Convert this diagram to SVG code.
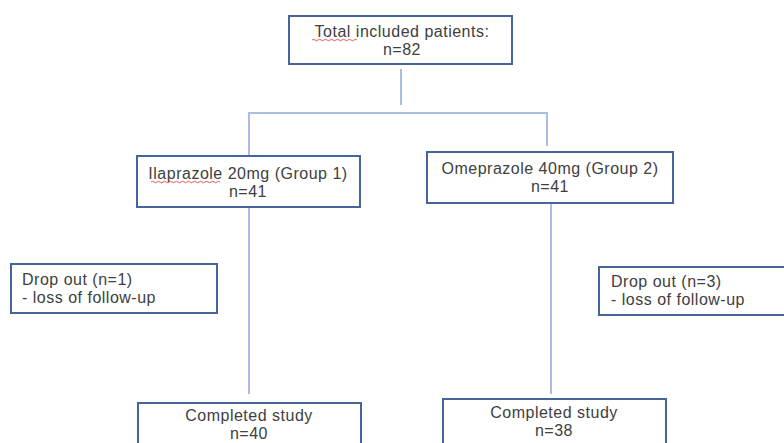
<svg xmlns="http://www.w3.org/2000/svg" width="784" height="443" viewBox="0 0 784 443">
<style>
.box{fill:#ffffff;stroke:#45659c;stroke-width:2}
.ln{fill:none;stroke:#a7bfe4;stroke-width:2}
.t{font-family:"Liberation Sans",Arial,sans-serif;font-size:16px;letter-spacing:0.5px;fill:#404040}
.c{text-anchor:middle}
.sq{fill:none;stroke:#e03030;stroke-width:0.8}
</style>
<rect width="784" height="443" fill="#ffffff"/>
<g id="connectors">
<line class="ln" x1="401" y1="69" x2="401" y2="105"/>
<polyline class="ln" points="249,155 249,113 547,113 547,146"/>
<line class="ln" x1="249" y1="208" x2="249" y2="394"/>
<line class="ln" x1="551" y1="204" x2="551" y2="394"/>
</g>
<g id="total">
<rect class="box" x="289" y="16" width="223" height="48"/>
<text class="t c" x="402" y="37">Total included patients:</text>
<text class="t c" x="402" y="55">n=82</text>
<path class="sq" d="M312,40 q1.5,-1.5 3,0 t3,0 t3,0 t3,0 t3,0 t3,0 t3,0 t3,0 t3,0 t3,0 t3,0 t3,0 t3,0 t3,0 t3,0"/>
</g>
<g id="group1">
<rect class="box" x="137" y="156" width="223" height="51"/>
<text class="t c" x="248" y="179">Ilaprazole 20mg (Group 1)</text>
<text class="t c" x="248" y="197">n=41</text>
<path class="sq" d="M151,182 q1.5,-1.5 3,0 t3,0 t3,0 t3,0 t3,0 t3,0 t3,0 t3,0 t3,0 t3,0 t3,0 t3,0 t3,0 t3,0 t3,0 t3,0 t3,0 t3,0 t3,0 t3,0 t3,0 t3,0 t3,0"/>
</g>
<g id="group2">
<rect class="box" x="427" y="152" width="246" height="51"/>
<text class="t c" x="550" y="174">Omeprazole 40mg (Group 2)</text>
<text class="t c" x="550" y="192">n=41</text>
</g>
<g id="drop1">
<rect class="box" x="11" y="264" width="206" height="49"/>
<text class="t" x="22" y="285">Drop out (n=1)</text>
<text class="t" x="22" y="303">- loss of follow-up</text>
</g>
<g id="drop2">
<rect class="box" x="599" y="267" width="200" height="48"/>
<text class="t" x="611" y="287">Drop out (n=3)</text>
<text class="t" x="611" y="305">- loss of follow-up</text>
</g>
<g id="complete1">
<rect class="box" x="138" y="403" width="223" height="60"/>
<text class="t c" x="249" y="421">Completed study</text>
<text class="t c" x="249" y="439">n=40</text>
</g>
<g id="complete2">
<rect class="box" x="443" y="399" width="223" height="60"/>
<text class="t c" x="554" y="418">Completed study</text>
<text class="t c" x="554" y="436">n=38</text>
</g>
</svg>
